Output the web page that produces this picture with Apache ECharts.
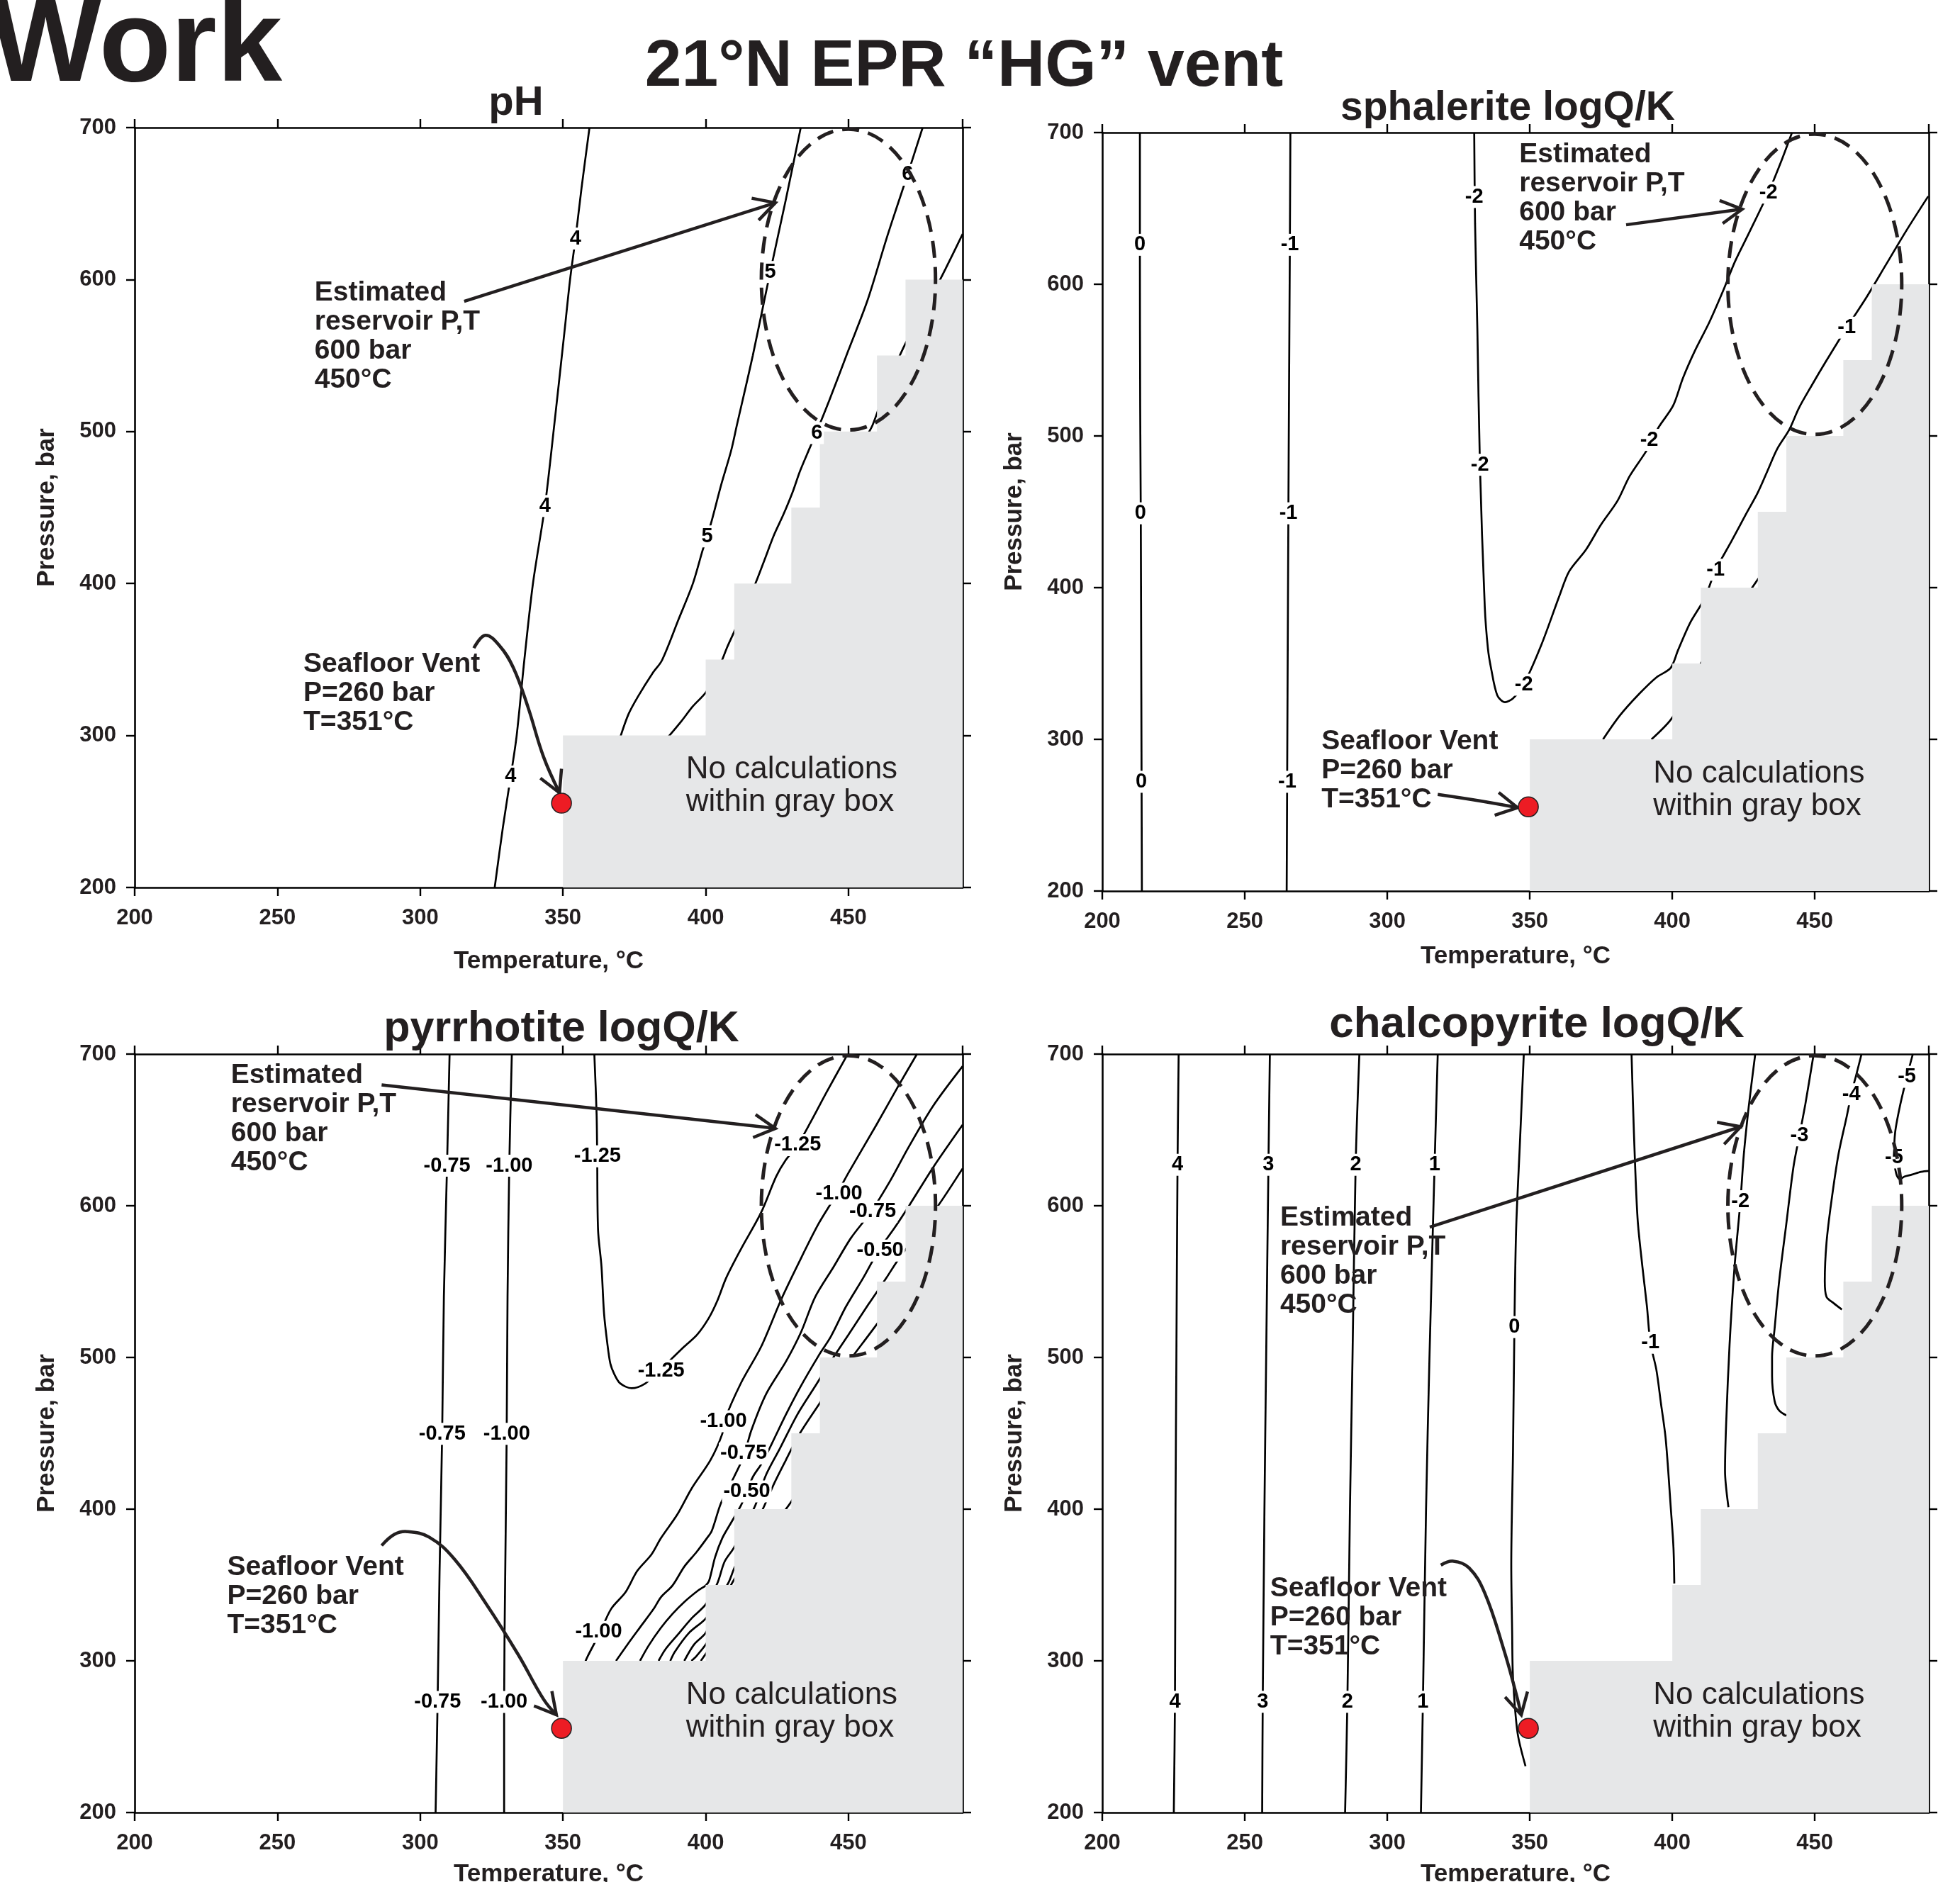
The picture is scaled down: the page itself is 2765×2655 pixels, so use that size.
<!DOCTYPE html>
<html>
<head>
<meta charset="utf-8">
<title>21°N EPR "HG" vent</title>
<script src="https://cdn.jsdelivr.net/npm/echarts@6.0.0/dist/echarts.min.js"></script>
<style>
    html, body {margin: 0; padding: 0; background: #fff;}
    #chart {width: 2765px; height: 2655px;}
</style>
</head>
<body>
<div id="chart"></div>
<script>
// axis ranges (temperature °C, pressure bar)
var tempRange = [200, 490];
var presRange = [200, 700];

// gray "no calculations" box: step edges in T and step tops in P
var boxStepT = [350, 400, 410, 430, 440, 460, 470, 490];
var boxStepP = [300, 350, 400, 450, 500, 550, 600];

// estimated reservoir and seafloor vent (T, P)
var reservoirPT = [450, 600];
var ventPT = [349.5, 255.5];

// ---- pH contours ----
var phC4 = [[359.3,700],[356.5,660],[354.4,627],[352.5,600],[350.5,565],[347,505],[343.7,451],[339.5,400],[336.5,350],[333.8,300],[331.7,273],[329,240],[326.1,200]];
var phC5 = [[433.3,700],[428,652],[422.6,605],[416.5,550],[410.9,504],[408.9,487.3],[405.5,465.4],[402.2,441.9],[400.5,431],[398.9,421.7],[395.5,399.9],[390.5,376.4],[384.7,349.5],[381.4,341],[376.4,326],[373,314.2],[370.1,299]];
var phC6a = [[476,700],[470.7,669],[467,648],[463.3,626.7],[456.7,586.4],[450,553.5],[443.3,520.5],[438.9,500],[436.4,489],[433,473.8],[430.5,460.4],[427.2,445.3],[423.9,431.8],[420.5,415],[417.2,399],[413.5,384],[410.1,368.8],[407.5,358],[405.5,348.6],[402.5,338],[400.1,328.5],[395.5,319.2],[391.4,309.2],[386.4,298]];
var phC6b = [[490,630],[484,607],[478,585],[470,558],[463,528],[458.4,504],[455,493],[450,478]];
var phLabelPos = [[354.4,627],[343.7,451],[331.7,273],[422.6,605],[400.5,431],[470.7,669],[438.9,499]];
var phLabelText = ['4','4','4','5','5','6','6'];

// ---- sphalerite logQ/K contours ----
var spC0 = [[213.2,700],[213.2,620],[213.3,520],[213.5,450],[213.7,330],[213.9,200]];
var spC1a = [[266,700],[265.8,620],[265.5,520],[265.3,450],[265,330],[264.7,200]];
var spC2 = [[330.5,700],[330.8,640],[331.6,570.7],[332.5,481],[334.2,387.5],[335.3,360],[336.4,347],[338.6,329],[341.3,324.5],[344.1,327],[347.9,336.3],[354,362],[360.4,394.6],[363.8,410.7],[369.7,425],[374.8,441],[380.8,457.3],[385,473.4],[390.1,487.8],[392.7,495.9],[395.2,505.7],[400.3,520],[403.7,538],[407.9,556],[413,575],[417.9,596],[422,615],[426.7,633],[433.7,660.4],[438,680],[442,700]];
var spC1b = [[489.8,658],[482,635],[475,613],[468,591],[461.2,571.4],[453.8,548.8],[448.7,532.6],[444.4,518.3],[441,504],[436.8,491.4],[433.4,477],[430,462.7],[425.8,448.3],[420.7,430.4],[415.2,411.6],[411.3,392.8],[406.2,376.6],[402,358.7],[399.4,347],[394.4,340.8],[388.4,330],[381.6,315.7],[375.7,300]];
var spC0b = [[392.7,300],[399.4,312.8],[405,330],[410,350],[420,378],[428.3,400.8],[431,408],[436,420]];
var spLabelPos = [[213.2,626],[213.4,449],[213.7,272],[265.8,626],[265.3,449],[264.9,272],[330.5,657.5],[332.5,481],[347.9,336],[391.9,497.4],[433.7,660.4],[461.2,571.4],[415.2,411.8]];
var spLabelText = ['0','0','0','-1','-1','-1','-2','-2','-2','-2','-2','-1','-1'];

// ---- pyrrhotite logQ/K contours ----
var pyV075 = [[310.3,700],[309.4,626],[308.3,540],[307.7,450],[306.8,360],[306.1,273],[305.4,200]];
var pyV100 = [[332.1,700],[331.2,626],[330.6,540],[330.3,450],[329.8,360],[329.4,273],[329.4,200]];
var pyU125 = [[361,700],[361.8,660],[362,632],[362.3,584],[363.5,560],[364.4,529],[365.5,510],[366.6,496],[368,489],[370,483],[374,479.7],[378.8,482.8],[383.6,491],[388,499],[392.4,507],[397,515],[401.1,526],[404,537],[407.2,552.5],[412.4,571.6],[419.4,595.5],[424.7,619.3],[428,630],[432.2,640],[437,656],[442.1,674],[449.6,699.5]];
var pyD100 = [[474,700],[467.5,679],[459.6,652.7],[450,621.7],[446,608],[439.5,588],[432.5,562],[426.4,538],[419.4,507],[412.4,483.3],[406.5,458],[405.8,449.6],[401.7,432.4],[395.1,413.7],[390.1,396.6],[384.3,380.8],[381,370.1],[376,359.2],[371.9,345.2],[366.9,334.3],[362.8,318],[358.7,303.1],[357.5,298]];
var pyD075 = [[490,692],[479.7,665.9],[471,638.4],[464.8,617],[457.9,596],[450.9,578.8],[444.8,559.7],[438.3,539.7],[433.4,516.7],[428.2,497.6],[421.2,476],[416,452],[413.3,434.8],[410,421.5],[405.4,404.2],[402.1,385.5],[400.4,380.8],[396.7,371.5],[392.5,362.1],[388.4,349.7],[384.3,341.9],[381.8,334.3],[376.9,321.8],[372.7,311],[368.6,300]];
var pyD050 = [[490,653.4],[479.7,625.4],[471.4,600.5],[466,585],[460.7,570.9],[455.2,552.5],[449.1,533.4],[443.9,514],[439.5,501],[433,480],[428,462],[423.2,443.3],[419.9,430.9],[416.6,421.5],[414.4,411.7],[412.4,402.6],[409.1,391.7],[405.8,380.8],[403.3,368.4],[401.2,352.8],[400,349.7],[397.5,346.6],[392.5,338.8],[388.4,331],[384.3,321.7],[380,310],[377,300]];
var pyD025 = [[490,624.6],[481.4,600],[470,571],[466.9,563],[463.2,552.2],[457,535],[450,515],[444,498],[438,480],[432,462],[426,440],[421,422],[417.4,402.6],[414,390],[409.9,374.6],[406.6,365.3],[404.1,351.2],[400,337.2],[395,327.9],[390.1,317],[385.9,307.6],[383.5,300]];
var pyD000 = [[490,598],[480,575],[470,548],[460,522],[452,502],[446,487],[440,470],[433,450],[428,432],[424,417],[420,400],[415,382],[409.9,360.6],[407.9,351.2],[404,340],[400,327.9],[394.2,318.5],[389.2,306],[387.6,300]];
var pyD025p = [[458,495],[450,470],[443,448],[436,425],[430,405],[424,390],[418,375],[412,360],[406,340],[400,318.5],[395.9,310.7],[392.5,300]];
var pyD050p = [[440,420],[432,400],[426,385],[418,362],[410,340],[405,326],[400,310.7],[396.7,303],[395,300]];
var pyD075p = [[432,385],[424,365],[416,345],[408,325],[404,315],[400,304.5],[398.3,300]];
var pyLabelPos = [[309.4,626.4],[307.7,449.6],[306.1,272.9],[331.2,626.4],[330.3,449.6],[329.4,272.9],[362.1,632.6],[384.4,491.2],[432.2,640],[446.7,608],[406.2,458],[362.5,319],[458.5,596.2],[413.3,436.7],[461.1,570.4],[414.4,411.7]];
var pyLabelText = ['-0.75','-0.75','-0.75','-1.00','-1.00','-1.00','-1.25','-1.25','-1.25','-1.00','-1.00','-1.00','-0.75','-0.75','-0.50','-0.50'];

// ---- chalcopyrite logQ/K contours ----
var cpC4 = [[226.8,700],[226.4,627],[226,500],[225.7,400],[225.5,273],[225.1,200]];
var cpC3 = [[258.8,700],[258.3,627],[257.5,500],[256.9,400],[256.3,273],[256.1,200]];
var cpC2 = [[290.2,700],[288.9,627],[287.8,500],[286.9,400],[286,273],[285.2,200]];
var cpC1 = [[317.7,700],[316.6,627],[314.8,500],[313.6,400],[312.5,273],[311.8,200]];
var cpC0 = [[347.9,700],[346.5,640],[345.2,584],[344.6,520],[344.1,436.7],[343.5,363],[343.8,320],[344.1,289.5],[345.7,252.6],[348.5,230.6]];
var cpCm1 = [[385.7,700],[386.5,650],[387.8,592],[389.5,560],[391.1,533.7],[392.3,509.7],[394.4,492],[396,470],[397.7,446],[399.5,400],[400.4,375],[400.7,351]];
var cpCm2 = [[429.1,700],[426.8,665],[425.1,633.9],[423.9,603],[421.8,558.8],[420.1,508.7],[418.9,456.6],[418.5,425.3],[419.7,401.3]];
var cpCm3 = [[449.6,700],[446.7,667.2],[444.6,646.4],[442.5,625.5],[440,588],[437.5,550.4],[435.9,519.1],[435,500.4],[435,487.8],[435.9,471.2],[437.5,465],[440,461.8]];
var cpCm4 = [[466.4,700],[464.5,686],[462.8,673.5],[461.2,658.9],[458.3,633.9],[455.8,602.6],[454.1,575.5],[453.5,550.4],[454.1,540],[456.6,535.8],[459.5,531.6]];
var cpCm5 = [[484.4,700],[482.3,685],[479.8,665.1],[478.2,648.5],[477.8,631.8],[478.6,621],[479.8,617.5],[481.5,619.3],[484,620.5],[487.3,622.4],[490,623]];
var cpLabelPos = [[226.4,627],[225.5,273],[258.3,627],[256.3,273],[288.9,627],[286,273],[316.6,627],[312.5,273],[344.6,520],[392.3,509.7],[423.9,603],[444.6,646.4],[462.8,673.5],[482.3,685],[477.8,631.8]];
var cpLabelText = ['4','4','3','3','2','2','1','1','0','-1','-2','-3','-4','-5','-5'];

// annotation anchors per panel: reservoir text, vent text, gray box text
var p1Notes = [[263,601],[259.1,356.3],[393.1,288]];
var p2Notes = [[346.3,695],[276.9,308],[393.3,288]];
var p3Notes = [[233.7,695.5],[232.4,371],[393.1,288]];
var p4Notes = [[262.4,601.6],[258.9,357],[393.3,288]];

// arrows (last point = tip)
var p1ResArrow = [[315.4,585.7],[424.4,650.5]];
var p1VentArrow = [[318.8,357.5],[322.8,365.9],[327.7,359.3],[332.6,344.7],[337.7,319],[343.2,286],[348.8,262.3]];
var p2ResArrow = [[383.8,639.2],[424.5,649.5]];
var p2VentArrow = [[317.7,263.7],[332,259.6],[345.7,255]];
var p3ResArrow = [[286.5,679.7],[424.4,651]];
var p3VentArrow = [[286.5,376],[291,383.4],[295.4,385.2],[303.2,381.5],[312.1,366.8],[323.2,337.3],[334.3,304.2],[343.2,274.7],[347.7,264.4]];
var p4ResArrow = [[314.9,585.9],[424,652.1]];
var p4VentArrow = [[318.8,363.1],[323.2,365.7],[328.7,361.3],[334.2,344.7],[340.8,307.9],[345.2,278.4],[347,264.4]];

var FONT = '"Liberation Sans", Arial, Helvetica, sans-serif';
var INK = '#231f20';
var noteTexts = ['Estimated\nreservoir P,T\n600 bar\n450°C', 'Seafloor Vent\nP=260 bar\nT=351°C', 'No calculations\nwithin gray box'];

var grids = [
    {left: 190, top: 180, width: 1168, height: 1072},
    {left: 1555, top: 187, width: 1166, height: 1070},
    {left: 190, top: 1487, width: 1168, height: 1070},
    {left: 1555, top: 1487, width: 1166, height: 1070}
];
var xNameGap = [87, 75, 70, 70];

function txtStyle(text, font, align, valign, extra) {
    var s = {text: text, font: font, fill: INK, align: align, verticalAlign: valign, textAlign: align, textVerticalAlign: valign};
    if (extra) { for (var key in extra) s[key] = extra[key]; }
    return s;
}

function makeAxes(k) {
    var line = {show: true, onZero: false, lineStyle: {color: '#000', width: 2.6}};
    var tick = {show: true, inside: false, length: 12, lineStyle: {color: '#000', width: 2.4}};
    var lab = {show: true, fontSize: 31, fontWeight: 'bold', fontFamily: FONT, color: INK};
    var nameStyle = {fontSize: 35, fontWeight: 'bold', fontFamily: FONT, color: INK};
    var xb = {type: 'value', gridIndex: k, position: 'bottom', min: tempRange[0], max: tempRange[1], interval: 50,
        axisLine: line, axisTick: tick, splitLine: {show: false},
        axisLabel: Object.assign({}, lab, {margin: 28, showMaxLabel: false}),
        name: 'Temperature, °C', nameLocation: 'middle', nameGap: xNameGap[k], nameTextStyle: nameStyle};
    var xt = {type: 'value', gridIndex: k, position: 'top', min: tempRange[0], max: tempRange[1], interval: 50,
        axisLine: line, axisTick: tick, splitLine: {show: false}, axisLabel: {show: false}};
    var yl = {type: 'value', gridIndex: k, position: 'left', min: presRange[0], max: presRange[1], interval: 100,
        axisLine: line, axisTick: tick, splitLine: {show: false},
        axisLabel: Object.assign({}, lab, {margin: 26}),
        name: 'Pressure, bar', nameLocation: 'middle', nameGap: 106, nameTextStyle: nameStyle};
    var yr = {type: 'value', gridIndex: k, position: 'right', min: presRange[0], max: presRange[1], interval: 100,
        axisLine: line, axisTick: tick, splitLine: {show: false}, axisLabel: {show: false}};
    return {x: [xb, xt], y: [yl, yr]};
}

function panelSeries(k, lines, labelPos, labelText, notes, resArrow, ventArrow) {
    var xi = 2 * k, yi = 2 * k;
    var out = [];
    // contour lines
    lines.forEach(function (pts) {
        out.push({type: 'line', xAxisIndex: xi, yAxisIndex: yi, data: pts, smooth: 0.3, symbol: 'none',
            silent: true, z: 2, lineStyle: {color: '#000', width: 2.7}});
    });
    // gray box
    out.push({type: 'custom', xAxisIndex: xi, yAxisIndex: yi, z: 3, silent: true, data: [[boxStepT[0], boxStepP[0]]],
        renderItem: function (params, api) {
            var pts = [api.coord([boxStepT[0], presRange[0]])];
            for (var i = 0; i < boxStepP.length; i++) {
                pts.push(api.coord([boxStepT[i], boxStepP[i]]));
                pts.push(api.coord([boxStepT[i + 1], boxStepP[i]]));
            }
            pts.push(api.coord([boxStepT[boxStepT.length - 1], presRange[0]]));
            return {type: 'polygon', shape: {points: pts}, style: {fill: '#e6e7e8', stroke: null}};
        }});
    // contour labels
    out.push({type: 'custom', xAxisIndex: xi, yAxisIndex: yi, z: 4, silent: true, data: labelPos,
        renderItem: function (params, api) {
            var c = api.coord([api.value(0), api.value(1)]);
            return {type: 'text', x: c[0], y: c[1],
                style: txtStyle(labelText[params.dataIndex], 'bold 29px ' + FONT, 'center', 'middle',
                    {fill: '#000', backgroundColor: '#fff', padding: [1, 2]})};
        }});
    // dashed ellipse round the reservoir estimate
    out.push({type: 'custom', xAxisIndex: xi, yAxisIndex: yi, z: 5, silent: true, data: [reservoirPT],
        renderItem: function (params, api) {
            var c = api.coord([api.value(0), api.value(1)]);
            var s = api.size([30.5, 99]);
            return {type: 'ellipse', shape: {cx: c[0], cy: c[1], rx: s[0], ry: s[1]},
                style: {fill: 'none', stroke: INK, lineWidth: 5, lineDash: [24, 13]}};
        }});
    // arrows
    [resArrow, ventArrow].forEach(function (arr, ai) {
        out.push({type: 'custom', xAxisIndex: xi, yAxisIndex: yi, z: 6, silent: true, data: [arr[0]],
            renderItem: function (params, api) {
                var px = arr.map(function (p) { return api.coord(p); });
                var tip = px[px.length - 1], prev = px[px.length - 2];
                var ang = Math.atan2(tip[1] - prev[1], tip[0] - prev[0]);
                var L = 34, a = 0.5;
                var h1 = [tip[0] - L * Math.cos(ang - a), tip[1] - L * Math.sin(ang - a)];
                var h2 = [tip[0] - L * Math.cos(ang + a), tip[1] - L * Math.sin(ang + a)];
                return {type: 'group', children: [
                    {type: 'polyline', shape: {points: px, smooth: ai === 1 ? 0.4 : 0},
                        style: {fill: 'none', stroke: INK, lineWidth: 4.5}},
                    {type: 'polyline', shape: {points: [h1, tip, h2]},
                        style: {fill: 'none', stroke: INK, lineWidth: 4.5}}
                ]};
            }});
    });
    // vent dot
    out.push({type: 'scatter', xAxisIndex: xi, yAxisIndex: yi, z: 7, silent: true, data: [ventPT], symbolSize: 28,
        itemStyle: {color: '#ed1c24', borderColor: INK, borderWidth: 1.5, opacity: 1}});
    // text notes
    out.push({type: 'custom', xAxisIndex: xi, yAxisIndex: yi, z: 8, silent: true, data: notes,
        renderItem: function (params, api) {
            var c = api.coord([api.value(0), api.value(1)]);
            var i = params.dataIndex;
            var font = i === 2 ? '44px ' + FONT : 'bold 39px ' + FONT;
            return {type: 'text', x: c[0], y: c[1],
                style: txtStyle(noteTexts[i], font, 'left', 'top', {lineHeight: i === 2 ? 46 : 41})};
        }});
    return out;
}

var xAxes = [], yAxes = [];
for (var k = 0; k < 4; k++) {
    var ax = makeAxes(k);
    xAxes = xAxes.concat(ax.x);
    yAxes = yAxes.concat(ax.y);
}

var series = []
    .concat(panelSeries(0, [phC4, phC5, phC6a, phC6b], phLabelPos, phLabelText, p1Notes, p1ResArrow, p1VentArrow))
    .concat(panelSeries(1, [spC0, spC1a, spC2, spC1b, spC0b], spLabelPos, spLabelText, p2Notes, p2ResArrow, p2VentArrow))
    .concat(panelSeries(2, [pyV075, pyV100, pyU125, pyD100, pyD075, pyD050, pyD025, pyD000, pyD025p, pyD050p, pyD075p], pyLabelPos, pyLabelText, p3Notes, p3ResArrow, p3VentArrow))
    .concat(panelSeries(3, [cpC4, cpC3, cpC2, cpC1, cpC0, cpCm1, cpCm2, cpCm3, cpCm4, cpCm5], cpLabelPos, cpLabelText, p4Notes, p4ResArrow, p4VentArrow));

var titles = [
    {text: 'Work', x: -14, y: 68, size: 166, align: 'left'},
    {text: '21°N EPR “HG” vent', x: 1360, y: 95, size: 93, align: 'center'},
    {text: 'pH', x: 728, y: 146, size: 58, align: 'center'},
    {text: 'sphalerite logQ/K', x: 2127, y: 153, size: 57, align: 'center'},
    {text: 'pyrrhotite logQ/K', x: 792, y: 1452, size: 61, align: 'center'},
    {text: 'chalcopyrite logQ/K', x: 2168, y: 1446, size: 62, align: 'center'}
];

var myChart = echarts.init(document.getElementById('chart'));
myChart.setOption({
    animation: false,
    backgroundColor: '#fff',
    grid: grids.map(function (g) { return Object.assign({containLabel: false, outerBoundsMode: 'none'}, g); }),
    xAxis: xAxes,
    yAxis: yAxes,
    series: series,
    graphic: titles.map(function (t) {
        return {type: 'text', x: t.x, y: t.y, z: 100,
            style: txtStyle(t.text, 'bold ' + t.size + 'px ' + FONT, t.align, 'middle')};
    })
});
</script>
</body>
</html>
